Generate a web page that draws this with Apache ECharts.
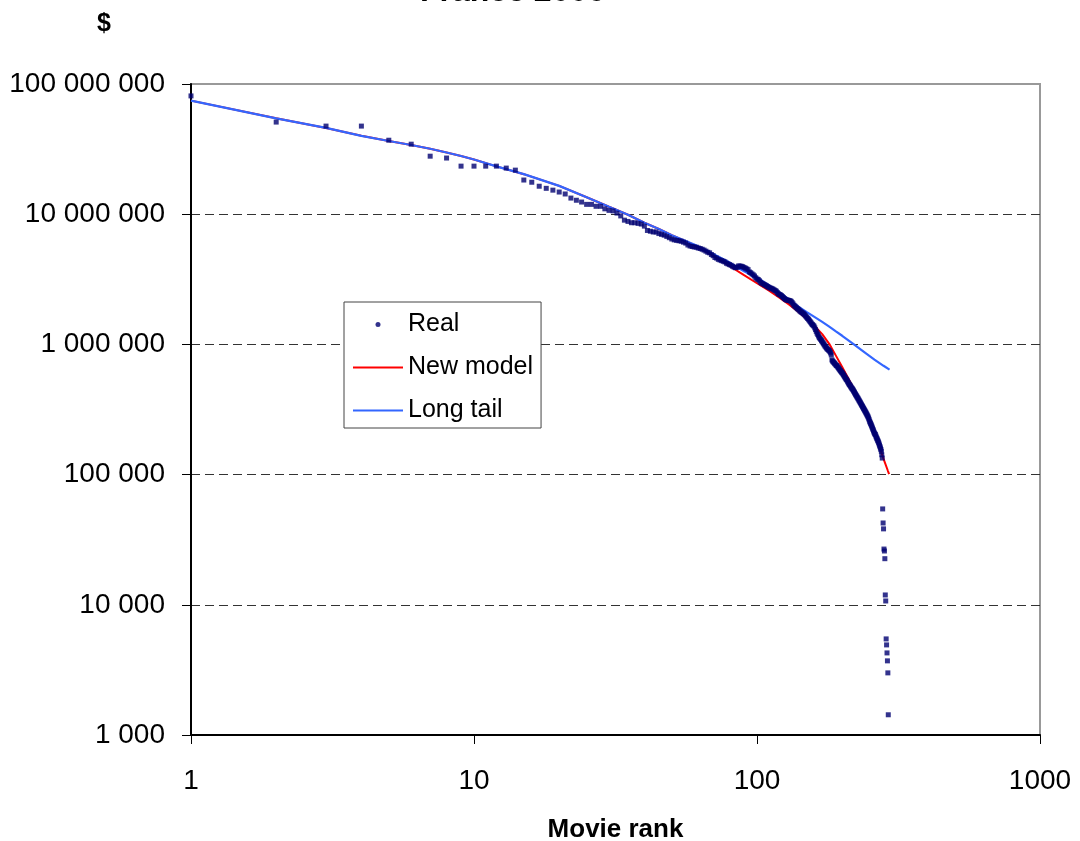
<!DOCTYPE html>
<html>
<head>
<meta charset="utf-8">
<script src="https://cdn.jsdelivr.net/npm/echarts@6/dist/echarts.min.js"></script>
<style>html,body{margin:0;padding:0;background:#fff}#c{width:1080px;height:841px}</style>
</head>
<body>
<div id="c"></div>
<script>
// Box office revenue, France 2006, in thousands of $, by movie rank 1..277
const realValuesK = [
  81000, 51000, 47500, 47500, 37000, 34500, 27900, 27000, 23400, 23400,
  23400, 23400, 22600, 21800, 18300, 17600, 16400, 15800, 15300, 14800,
  14300, 13300, 12800, 12400, 11900, 11900, 11500, 11500, 11000, 10700,
  10600, 10200, 9700, 9000, 8800, 8600, 8600, 8500, 8400, 8100,
  7500, 7400, 7300, 7300, 7100, 7000, 6900, 6750, 6600, 6450,
  6350, 6300, 6250, 6200, 6100, 6000, 5800, 5700, 5650, 5600,
  5580, 5500, 5450, 5380, 5300, 5200, 5100, 5050, 4900, 4800,
  4650, 4600, 4500, 4450, 4400, 4350, 4300, 4200, 4150, 4100,
  4050, 3980, 3920, 3880, 3900, 4000, 4000, 3980, 3950, 3900,
  3850, 3800, 3750, 3600, 3550, 3480, 3420, 3350, 3250, 3180,
  3150, 3080, 3000, 2950, 2920, 2880, 2850, 2820, 2780, 2750,
  2720, 2700, 2680, 2650, 2620, 2590, 2560, 2500, 2450, 2420,
  2400, 2370, 2330, 2290, 2250, 2220, 2200, 2190, 2180, 2170,
  2160, 2140, 2100, 2050, 2000, 1970, 1940, 1910, 1880, 1860,
  1830, 1800, 1780, 1760, 1740, 1720, 1700, 1670, 1640, 1610,
  1580, 1560, 1530, 1500, 1470, 1440, 1420, 1400, 1380, 1340,
  1300, 1260, 1220, 1190, 1160, 1130, 1110, 1090, 1070, 1050,
  1030, 1010, 990, 970, 955, 940, 925, 915, 905, 895,
  880, 860, 830, 760, 745, 735, 725, 715, 705, 695,
  688, 681, 670, 660, 650, 640, 630, 620, 612, 605,
  595, 585, 575, 565, 555, 545, 538, 530, 520, 510,
  500, 492, 485, 478, 470, 463, 457, 451, 443, 435,
  428, 420, 413, 406, 400, 393, 387, 381, 374, 368,
  362, 356, 350, 344, 339, 333, 328, 322, 317, 312,
  307, 302, 297, 292, 287, 282, 277, 271, 264, 257,
  252, 247, 242, 237, 232, 227, 222, 217, 212, 208,
  205, 203, 198, 194, 190, 187, 183, 180, 176, 172,
  168, 164, 160, 156, 151, 142, 134
];
const tailRanks   = [278, 279, 280, 281, 282, 283, 284, 285, 286, 287, 288, 289, 290, 291];
const tailValuesK = [54.5, 42.5, 38.3, 26.8, 25.9, 22.6, 11.9, 10.7, 5.47, 4.92, 4.27, 3.71, 3.0, 1.43];

const longTailRanks   = [1, 2, 3, 4, 5, 6, 7, 8, 9, 10, 12, 15, 20, 25, 30, 35, 40, 45, 50, 60, 70, 80, 90, 100, 110, 120, 130, 140, 150, 160, 170, 180, 190, 200, 220, 240, 260, 280, 294];
const longTailValuesK = [74500, 54500, 46000, 40000, 36500, 34000, 31800, 29800, 28000, 26300, 23300, 20300, 16500, 13500, 11400, 9900, 8600, 7700, 6900, 5850, 4950, 4250, 3650, 3250, 2850, 2500, 2200, 1950, 1770, 1620, 1490, 1370, 1260, 1165, 1000, 870, 765, 685, 640];

const newModelRanks   = [1, 2, 3, 4, 5, 6, 7, 8, 9, 10, 12, 15, 20, 25, 30, 35, 40, 45, 50, 60, 70, 80, 90, 100, 110, 120, 130, 140, 150, 160, 170, 180, 190, 200, 210, 220, 230, 240, 250, 260, 270, 280, 290, 293];
const newModelValuesK = [74500, 54500, 46000, 40000, 36500, 34000, 31800, 29800, 28000, 26300, 23300, 20300, 16500, 13500, 11400, 9900, 8600, 7700, 6900, 5800, 4780, 4000, 3400, 2950, 2600, 2280, 2020, 1780, 1570, 1380, 1200, 1010, 820, 670, 550, 455, 380, 314, 257, 208, 166, 132, 107, 101];

const seriesNames = ['Real', 'New model', 'Long tail'];
const titleText = 'France 2006';
const xName = 'Movie rank';
const yName = '$';

const K = 1000;
const realData = realValuesK.map((v, i) => [i + 1, v * K])
  .concat(tailRanks.map((r, i) => [r, tailValuesK[i] * K]));
const longTailData = longTailRanks.map((r, i) => [r, longTailValuesK[i] * K]);
const newModelData = newModelRanks.map((r, i) => [r, newModelValuesK[i] * K]);

const FONT = "'Liberation Sans', Arial, sans-serif";
const spaced = v => String(Math.round(v)).replace(/\B(?=(\d{3})+(?!\d))/g, ' ');

const chart = echarts.init(document.getElementById('c'), null, {renderer: 'canvas'});
chart.setOption({
  animation: false,
  backgroundColor: '#ffffff',
  title: {
    text: titleText,
    left: 420, top: -24, padding: 0,
    textStyle: {fontFamily: FONT, fontWeight: 'bold', fontSize: 32, color: '#000'}
  },
  grid: {
    left: 191, right: 40, top: 84, bottom: 106,
    outerBoundsMode: 'none', containLabel: false,
    show: true, borderColor: '#999', borderWidth: 2, backgroundColor: 'transparent'
  },
  legend: {
    data: [
      {name: seriesNames[0], icon: 'circle'},
      {name: seriesNames[1], icon: 'path://M0,0H50V2H0Z', itemStyle: {color: '#ff0000', borderWidth: 0}},
      {name: seriesNames[2], icon: 'path://M0,0H50V2H0Z', itemStyle: {color: '#3366ff', borderWidth: 0}}
    ],
    orient: 'vertical',
    left: 344, top: 302,
    itemWidth: 50, itemHeight: 5, itemGap: 18,
    padding: [10, 8, 5, 9],
    backgroundColor: '#ffffff',
    borderColor: '#444', borderWidth: 1,
    textStyle: {fontFamily: FONT, fontSize: 25, color: '#000'}
  },
  xAxis: {
    type: 'log', logBase: 10, min: 1, max: 1000,
    name: xName, nameLocation: 'middle', nameGap: 82,
    nameTextStyle: {fontFamily: FONT, fontWeight: 'bold', fontSize: 26, color: '#000'},
    axisLine: {show: true, lineStyle: {color: '#000', width: 2}},
    axisTick: {show: true, inside: false, length: 9, lineStyle: {color: '#000', width: 1}},
    minorTick: {show: false},
    axisLabel: {margin: 32, fontFamily: FONT, fontSize: 28, color: '#000', formatter: v => String(Math.round(v))},
    splitLine: {show: false}
  },
  yAxis: {
    type: 'log', logBase: 10, min: 1000, max: 100000000,
    name: yName, nameLocation: 'end', nameGap: 47,
    nameTextStyle: {fontFamily: FONT, fontWeight: 'bold', fontSize: 25, color: '#000', align: 'right', padding: [0, 80, 0, 0]},
    axisLine: {show: true, lineStyle: {color: '#000', width: 2}},
    axisTick: {show: true, inside: false, length: 9, lineStyle: {color: '#000', width: 1}},
    minorTick: {show: false},
    axisLabel: {margin: 26, padding: [7, 0, 0, 0], fontFamily: FONT, fontSize: 28, color: '#000', formatter: spaced},
    splitLine: {show: true, showMinLine: false, showMaxLine: false, lineStyle: {color: '#333', width: 1, type: [9, 5]}}
  },
  series: [
    {
      name: seriesNames[0], type: 'scatter', data: realData, z: 4,
      symbol: 'rect', symbolSize: 5,
      itemStyle: {color: '#000070'}
    },
    {
      name: seriesNames[1], type: 'line', data: newModelData, z: 2,
      showSymbol: false, symbol: 'none', smooth: false,
      lineStyle: {color: '#ff0000', width: 2}, itemStyle: {color: '#ff0000'}
    },
    {
      name: seriesNames[2], type: 'line', data: longTailData, z: 3,
      showSymbol: false, symbol: 'none', smooth: false,
      lineStyle: {color: '#3366ff', width: 2.2}, itemStyle: {color: '#3366ff'}
    }
  ]
});
</script>
</body>
</html>
